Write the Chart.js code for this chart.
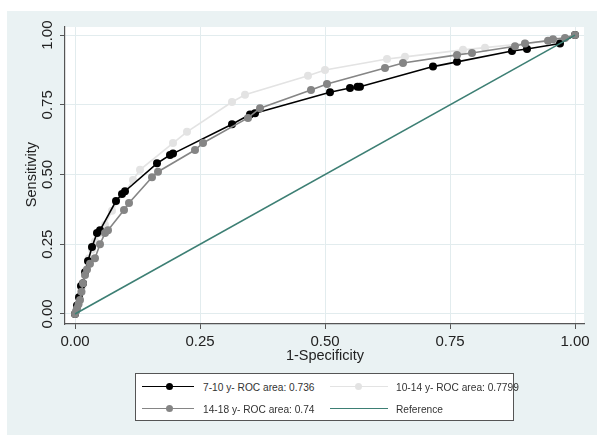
<!DOCTYPE html>
<html>
<head>
<meta charset="utf-8">
<script src="https://cdn.jsdelivr.net/npm/chart.js@4"></script>
<style>
html,body{margin:0;padding:0;background:#fff;}
#wrap{position:relative;width:597px;height:435px;overflow:hidden;font-family:"Liberation Sans",Arial,sans-serif;}
#c{position:absolute;left:0;top:0;}
#legend{position:absolute;left:135px;top:373px;width:377px;height:46px;border:1px solid #555;background:#fff;}
.ln{position:absolute;height:0;}
.mk{position:absolute;border-radius:50%;}
.tx{position:absolute;font-size:10.5px;color:#333;white-space:nowrap;line-height:12px;transform:scaleX(0.97);transform-origin:left center;}
</style>
</head>
<body>
<div id="wrap">
<canvas id="c" width="597" height="435"></canvas>
<div id="legend"></div>
</div>
<script>
// ---- data ----
const ticks = [0, 0.25, 0.5, 0.75, 1];
const tickLabels = ["0.00", "0.25", "0.50", "0.75", "1.00"];
const seriesNames = ["7-10 y- ROC area: 0.736", "10-14 y- ROC area: 0.7799", "14-18 y- ROC area: 0.74", "Reference"];

const g710x = [0, 0.004, 0.008, 0.012, 0.016, 0.02, 0.026, 0.034, 0.044, 0.05, 0.082, 0.094, 0.1, 0.164, 0.19, 0.196, 0.314, 0.35, 0.36, 0.51, 0.55, 0.565, 0.57, 0.716, 0.764, 0.874, 0.904, 0.97, 1];
const g710y = [0, 0.03, 0.06, 0.1, 0.11, 0.15, 0.19, 0.24, 0.29, 0.3, 0.405, 0.43, 0.44, 0.54, 0.57, 0.575, 0.68, 0.715, 0.72, 0.795, 0.81, 0.815, 0.815, 0.887, 0.904, 0.943, 0.95, 0.97, 1];

const g1014x = [0, 0.004, 0.008, 0.012, 0.015, 0.02, 0.028, 0.034, 0.04, 0.05, 0.06, 0.074, 0.116, 0.13, 0.196, 0.224, 0.314, 0.34, 0.466, 0.5, 0.624, 0.66, 0.776, 0.82, 0.9, 0.96, 1];
const g1014y = [0, 0.025, 0.05, 0.08, 0.1, 0.14, 0.2, 0.23, 0.26, 0.29, 0.32, 0.37, 0.48, 0.517, 0.613, 0.653, 0.76, 0.786, 0.854, 0.875, 0.914, 0.922, 0.947, 0.955, 0.97, 0.98, 1];

const g1418x = [0, 0.002, 0.004, 0.007, 0.01, 0.013, 0.016, 0.02, 0.024, 0.03, 0.04, 0.05, 0.06, 0.066, 0.098, 0.108, 0.154, 0.166, 0.24, 0.256, 0.346, 0.37, 0.472, 0.504, 0.62, 0.656, 0.764, 0.794, 0.88, 0.9, 0.946, 0.956, 0.98, 1];
const g1418y = [0, 0.01, 0.02, 0.035, 0.05, 0.08, 0.11, 0.14, 0.159, 0.18, 0.2, 0.25, 0.29, 0.3, 0.373, 0.398, 0.49, 0.51, 0.588, 0.613, 0.703, 0.738, 0.803, 0.825, 0.882, 0.9, 0.929, 0.936, 0.96, 0.97, 0.98, 0.985, 0.99, 1];

const refX = [0, 1];
const refY = [0, 1];

const colors = ["#000000", "#e3e3e3", "#858585", "#3d7f74"];
const BG = "#eaf2f3";
const GRID = "#e2ecee";

function pts(xs, ys){ return xs.map((x,i)=>({x:x, y:ys[i]})); }

const bgPlugin = {
  id:'bg',
  beforeDraw(chart){
    const ctx = chart.ctx, a = chart.chartArea;
    ctx.save();
    ctx.fillStyle = '#fff';
    ctx.fillRect(0,0,chart.width,chart.height);
    ctx.fillStyle = BG;
    ctx.fillRect(7,11,chart.width-7,chart.height-11);
    ctx.fillStyle = '#fff';
    ctx.fillRect(a.left,a.top,a.right-a.left,a.bottom-a.top);
    ctx.restore();
  },
  afterDraw(chart){
    const ctx = chart.ctx, xs = chart.scales.x, ys = chart.scales.y;
    ctx.save();
    ctx.fillStyle = '#222';
    ctx.font = '15px "Liberation Sans", Arial, sans-serif';
    ctx.textAlign = 'center';
    ctx.textBaseline = 'middle';
    ticks.forEach((v,i)=>{
      ctx.fillText(tickLabels[i], xs.getPixelForValue(v), 342);
      ctx.save();
      ctx.translate(48, ys.getPixelForValue(v));
      ctx.rotate(-Math.PI/2);
      ctx.fillText(tickLabels[i], 0, 0);
      ctx.restore();
    });
    ctx.font = '14.5px "Liberation Sans", Arial, sans-serif';
    ctx.fillText('1-Specificity', (xs.getPixelForValue(0)+xs.getPixelForValue(1))/2, 356);
    ctx.save();
    ctx.translate(32, (ys.getPixelForValue(0)+ys.getPixelForValue(1))/2);
    ctx.rotate(-Math.PI/2);
    ctx.fillText('Sensitivity', 0, 0);
    ctx.restore();
    ctx.restore();
  }
};

const ds = [
  {label:seriesNames[0], data:pts(g710x,g710y), borderColor:colors[0], backgroundColor:colors[0], pointRadius:4, borderWidth:1.6, order:2},
  {label:seriesNames[1], data:pts(g1014x,g1014y), borderColor:colors[1], backgroundColor:colors[1], pointRadius:4, borderWidth:1.6, order:3},
  {label:seriesNames[2], data:pts(g1418x,g1418y), borderColor:colors[2], backgroundColor:colors[2], pointRadius:4, borderWidth:1.6, order:1},
  {label:seriesNames[3], data:pts(refX,refY), borderColor:colors[3], backgroundColor:colors[3], pointRadius:0, borderWidth:1.6, order:0}
];
ds.forEach(d=>{ d.showLine = true; d.tension = 0; d.pointBorderWidth = 0; d.pointHoverRadius = d.pointRadius; });

function fixTicks(scale){ scale.ticks = ticks.map(v=>({value:v})); }

new Chart(document.getElementById('c'), {
  type:'scatter',
  data:{datasets:ds},
  options:{
    responsive:false,
    animation:false,
    devicePixelRatio:1,
    layout:{padding:{left:0,right:13,top:27,bottom:0}},
    plugins:{legend:{display:false}, tooltip:{enabled:false}},
    scales:{
      x:{
        type:'linear', min:-0.02, max:1.018,
        afterBuildTicks:fixTicks,
        afterFit(s){ s.height = 111; },
        ticks:{display:false},
        grid:{color:GRID, lineWidth:1, drawTicks:true, tickLength:5, tickColor:'#555'},
        border:{display:true, color:'#555', width:1.2}
      },
      y:{
        type:'linear', min:-0.036, max:1.029,
        afterBuildTicks:fixTicks,
        afterFit(s){ s.width = 65; },
        ticks:{display:false},
        grid:{color:GRID, lineWidth:1, drawTicks:true, tickLength:5, tickColor:'#555'},
        border:{display:true, color:'#555', width:1.2}
      }
    }
  },
  plugins:[bgPlugin]
});

// ---- HTML legend ----
const leg = document.getElementById('legend');
const layoutL = [
  {i:0, lx:6, lw:52, mx:33, tx:67, y:13, marker:true},
  {i:1, lx:194, lw:58, mx:222, tx:260, y:13, marker:true},
  {i:2, lx:6, lw:52, mx:33, tx:67, y:35, marker:true},
  {i:3, lx:194, lw:58, mx:222, tx:260, y:35, marker:false}
];
layoutL.forEach(o=>{
  const ln = document.createElement('div');
  ln.className='ln';
  ln.style.left=o.lx+'px'; ln.style.width=o.lw+'px'; ln.style.top=(o.y-1)+'px';
  ln.style.borderTop='1.6px solid '+colors[o.i];
  leg.appendChild(ln);
  if(o.marker){
    const mk=document.createElement('div');
    mk.className='mk';
    mk.style.left=(o.mx-3.5)+'px'; mk.style.top=(o.y-4)+'px';
    mk.style.width='7px'; mk.style.height='7px';
    mk.style.background=colors[o.i];
    leg.appendChild(mk);
  }
  const tx=document.createElement('div');
  tx.className='tx';
  tx.style.left=o.tx+'px'; tx.style.top=(o.y-6.5)+'px';
  tx.textContent=seriesNames[o.i];
  leg.appendChild(tx);
});
</script>
</body>
</html>
